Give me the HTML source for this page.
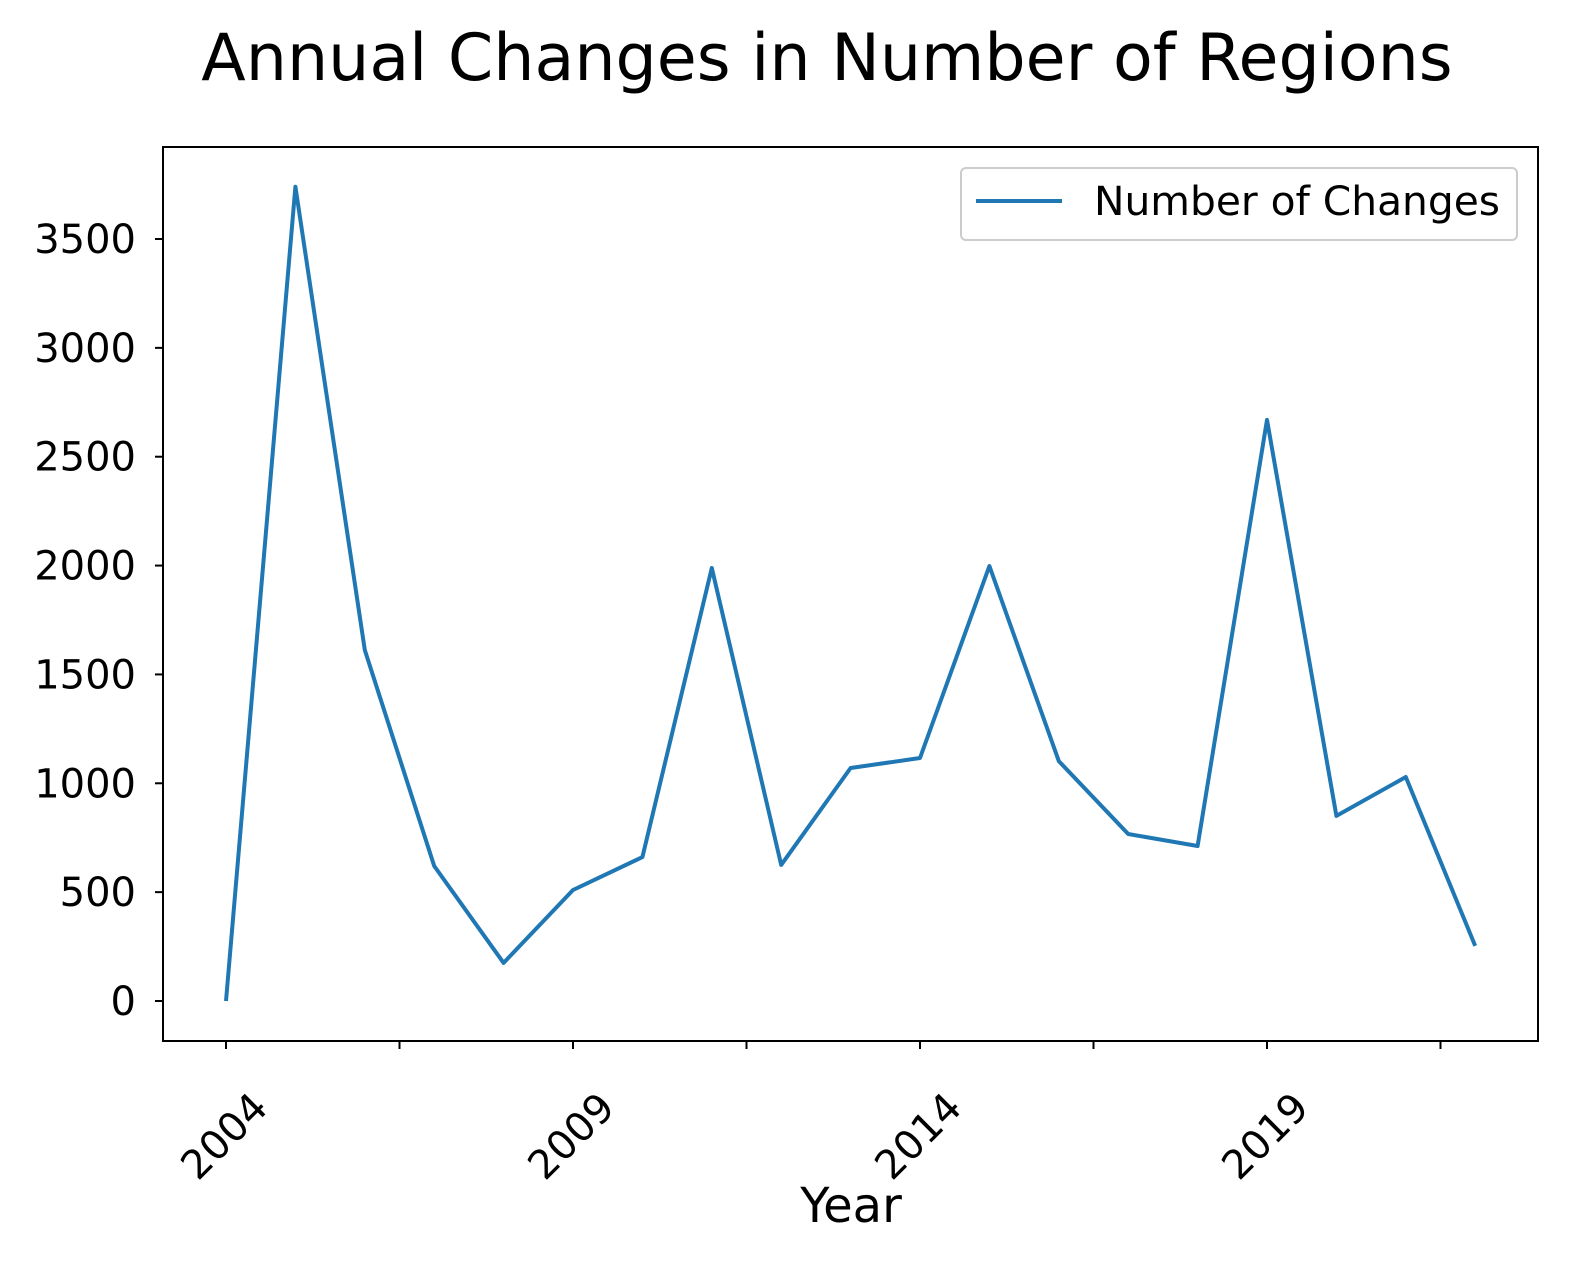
<!DOCTYPE html>
<html><head><meta charset="utf-8"><style>
html,body{margin:0;padding:0;background:#fff;}
svg{display:block;font-family:"DejaVu Sans","Liberation Sans",sans-serif;}
</style></head><body>
<svg id="chart" width="1590" height="1283" viewBox="0 0 1590 1283" xmlns="http://www.w3.org/2000/svg">
<rect width="1590" height="1283" fill="#fff"/>
<text x="827" y="80" font-size="65" text-anchor="middle" fill="#000">Annual Changes in Number of Regions</text>
<g id="axes"></g>
<path id="series" fill="none" stroke="#1f77b4" stroke-width="4" stroke-linejoin="round"/>
<rect x="163" y="147" width="1375" height="894" fill="none" stroke="#000" stroke-width="2"/>
<g>
<rect x="961" y="168" width="556" height="72" rx="5" fill="#fff" fill-opacity="0.8" stroke="#ccc" stroke-width="2"/>
<line x1="976" y1="201" x2="1062" y2="201" stroke="#1f77b4" stroke-width="4"/>
<text x="1094" y="215" font-size="40" fill="#000" textLength="406" lengthAdjust="spacingAndGlyphs">Number of Changes</text>
</g>
<text x="851" y="1222" font-size="48" text-anchor="middle" fill="#000">Year</text>
</svg>
<script>
const years=[2004,2005,2006,2007,2008,2009,2010,2011,2012,2013,2014,2015,2016,2017,2018,2019,2020,2021,2022];
const changes=[0,3740,1612,620,175,510,661,1989,625,1070,1116,1998,1102,767,712,2669,850,1029,253];
const yTicks=[0,500,1000,1500,2000,2500,3000,3500];
const xTicks=[2004,2006.5,2009,2011.5,2014,2016.5,2019,2021.5];
const xLabels=["2004","","2009","","2014","","2019",""];
const NS="http://www.w3.org/2000/svg";
const X=v=>226+(v-2004)*69.4;
const Y=v=>1001-v*(762/3500);
const g=document.getElementById('axes');
function mk(t,a){const e=document.createElementNS(NS,t);for(const k in a)e.setAttribute(k,a[k]);return e;}
yTicks.forEach(v=>{
 const l=mk('line',{x1:163,x2:155,y1:Y(v),y2:Y(v),stroke:'#000','stroke-width':2});
 
 
 g.appendChild(l);
 const t=mk('text',{x:136,y:Y(v)+14,'font-size':40,'text-anchor':'end',fill:'#000'});
 
 
 t.textContent=v;g.appendChild(t);
});
xTicks.forEach((v,i)=>{
 const l=mk('line',{x1:X(v),x2:X(v),y1:1041,y2:1049,stroke:'#000','stroke-width':2});
 
 
 g.appendChild(l);
 if(xLabels[i]){
  const x=X(v)-2,y=1136;
  const t=mk('text',{x:x,y:y+14,'font-size':40,'text-anchor':'middle',fill:'#000',transform:`rotate(-45 ${x} ${y})`});
  
  
  t.textContent=xLabels[i];g.appendChild(t);
 }
});
document.getElementById('series').setAttribute('d',years.map((yr,i)=>(i?'L':'M')+X(yr).toFixed(1)+' '+Y(changes[i]).toFixed(1)).join(' '));
</script>
</body></html>
